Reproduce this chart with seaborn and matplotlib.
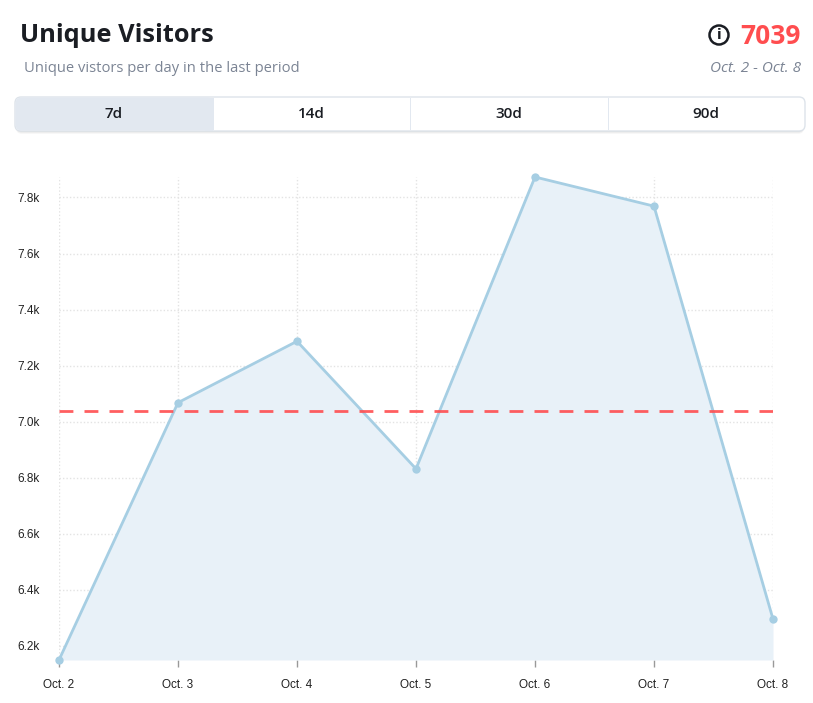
import numpy as np
import pandas as pd
import matplotlib
matplotlib.use("Agg")
import matplotlib.pyplot as plt
import seaborn as sns
from matplotlib.patches import FancyBboxPatch, Rectangle, Ellipse
from matplotlib.transforms import IdentityTransform
from matplotlib.ticker import FuncFormatter

# data
dates = ["Oct. 2", "Oct. 3", "Oct. 4", "Oct. 5", "Oct. 6", "Oct. 7", "Oct. 8"]
visitors = [6150, 7068, 7287, 6832, 7873, 7769, 6296]
tabs = ["7d", "14d", "30d", "90d"]
active_tab = "7d"

sns.set_theme(style="white")
plt.rcParams["font.family"] = ["Open Sans", "DejaVu Sans"]

df = pd.DataFrame({"date": dates, "visitors": visitors})
df["pos"] = range(len(df))
avg = df["visitors"].mean()

W, H = 813, 703
fig = plt.figure(figsize=(W / 100, H / 100), dpi=100)
fig.patch.set_facecolor("white")
px = IdentityTransform()

def Y(y):
    return H - y

# --- header ---
fig.text(20 / W, Y(36) / H, "Unique Visitors", fontsize=18.3, fontweight="bold",
         color="#1a1d23", va="center", ha="left")
fig.text(24 / W, Y(68) / H, "Unique vistors per day in the last period", fontsize=10.6,
         color="#7b8494", va="center", ha="left")
fig.text(801 / W, Y(36) / H, f"{avg:.0f}", fontsize=19, fontweight="bold",
         color="#ff4d4f", va="center", ha="right")
fig.add_artist(Ellipse((719, Y(35)), 19, 19, transform=px, fill=False,
                       edgecolor="#1a1d23", linewidth=1.8))
fig.text(719 / W, Y(35) / H, "i", fontsize=10, fontweight="bold", color="#1a1d23",
         va="center", ha="center", family="DejaVu Sans")
fig.text(801 / W, Y(68) / H, f"{dates[0]} - {dates[-1]}", fontsize=11, style="italic",
         color="#7b8494", va="center", ha="right")

# --- tab bar ---
x0, x1, top, bot = 15, 805, 97, 131
for k, a in enumerate([0.05, 0.04, 0.03]):
    fig.add_artist(FancyBboxPatch((x0 + 1, Y(bot) - 1 - k), x1 - x0 - 2, bot - top,
                                  boxstyle="round,pad=0,rounding_size=6", transform=px,
                                  facecolor="#000000", alpha=a, edgecolor="none"))
box = FancyBboxPatch((x0, Y(bot)), x1 - x0, bot - top,
                     boxstyle="round,pad=0,rounding_size=6", transform=px,
                     facecolor="white", edgecolor="#dde3ea", linewidth=1)
fig.add_artist(box)
tw = (x1 - x0) / len(tabs)
for i, t in enumerate(tabs):
    cx = x0 + tw * (i + 0.5)
    if t == active_tab:
        act = FancyBboxPatch((x0 + 0.5, Y(bot) + 0.5), tw, bot - top - 1,
                             boxstyle="round,pad=0,rounding_size=6", transform=px,
                             facecolor="#e2e8f0", edgecolor="none")
        fig.add_artist(act)
        fig.add_artist(Rectangle((x0 + tw - 8, Y(bot) + 0.5), 8, bot - top - 1,
                                 transform=px, facecolor="#e2e8f0", edgecolor="none"))
    elif i > 0:
        fig.add_artist(Rectangle((x0 + tw * i, Y(bot) + 1), 1, bot - top - 2,
                                 transform=px, facecolor="#e2e8f0", edgecolor="none"))
    fig.text(cx / W, Y(114) / H, t, fontsize=11, fontweight="semibold",
             color="#1a1d23", va="center", ha="center")

# --- chart ---
L, R, T, B = 59, 773, 177, 660
ax = fig.add_axes([L / W, Y(B) / H, (R - L) / W, (B - T) / H])
ax.fill_between(df["pos"], df["visitors"], df["visitors"].min(),
                color="#e8f1f8", linewidth=0, zorder=1)
sns.lineplot(data=df, x="pos", y="visitors", ax=ax, color="#a6cee3", linewidth=2,
             marker="o", markersize=6, markeredgewidth=0, zorder=3, clip_on=False)
ax.axhline(avg, color="#ff4d4f", linestyle=(0, (5, 4)), linewidth=2, alpha=0.9, zorder=4)

ax.set_xlim(df["pos"].min(), df["pos"].max())
ax.set_ylim(df["visitors"].min(), df["visitors"].max())
ax.set_xticks(df["pos"])
ax.set_xticklabels(dates)
ax.set_yticks(np.arange(6200, 7801, 200))
ax.yaxis.set_major_formatter(FuncFormatter(lambda v, _: f"{v / 1000:.1f}k"))
ax.set_xlabel("")
ax.set_ylabel("")
ax.grid(True, color="#e3e3e3", linestyle=(0, (1, 1.5)), linewidth=1, zorder=0)
ax.set_axisbelow(True)
for s in ax.spines.values():
    s.set_visible(False)
ax.tick_params(axis="x", length=5, width=1, color="#999999", pad=9,
               labelsize=8.5, labelcolor="#222222", bottom=True)
ax.tick_params(axis="y", length=0, pad=14, labelsize=8.5, labelcolor="#222222")
for lbl in ax.get_xticklabels() + ax.get_yticklabels():
    lbl.set_family(["Liberation Sans", "DejaVu Sans"])
ax.set_facecolor("none")

fig.savefig("out.png", dpi=100, facecolor="white")
